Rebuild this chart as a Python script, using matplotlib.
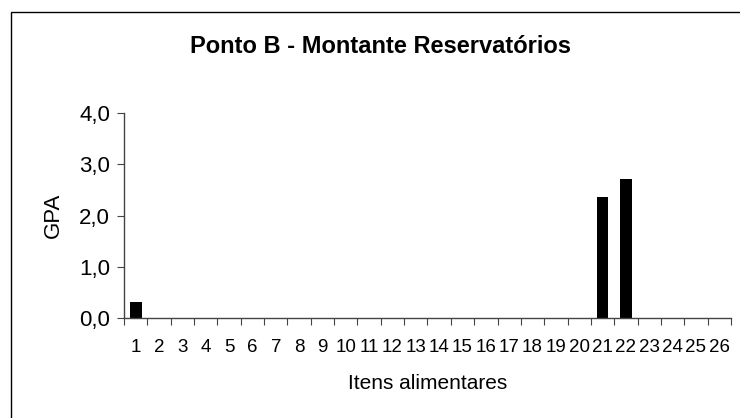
import matplotlib
matplotlib.use('Agg')
import matplotlib.pyplot as plt
from matplotlib.patches import Rectangle
import numpy as np

plt.rcParams['font.family'] = ['Liberation Sans', 'DejaVu Sans']

itens = list(range(1, 27))
gpa = [0.31, 0, 0, 0, 0, 0, 0, 0, 0, 0, 0, 0, 0, 0, 0, 0, 0, 0, 0, 0,
       2.36, 2.71, 0, 0, 0, 0]
yticks = [0.0, 1.0, 2.0, 3.0, 4.0]
ylabels = ['0,0', '1,0', '2,0', '3,0', '4,0']

fig = plt.figure(figsize=(7.4, 4.18), dpi=100)
ax = fig.add_axes([0.1676, 0.2392, 0.8202, 0.4904])

# outer chart frame (runs off the right and bottom edges)
fig.patches.append(Rectangle((11 / 740, -0.1), 1.2, 1 - 12 / 418 + 0.1,
                             transform=fig.transFigure, fill=False,
                             edgecolor='black', linewidth=1.0, clip_on=False))

ax.bar(itens, gpa, width=0.5, color='black')

ax.set_xlim(0.5, 26.5)
ax.set_ylim(0, 4.0)

axis_color = '#444444'
for s in ['top', 'right']:
    ax.spines[s].set_visible(False)
for s in ['left', 'bottom']:
    ax.spines[s].set_color(axis_color)
    ax.spines[s].set_linewidth(1.0)

ax.set_yticks(yticks)
ax.set_yticklabels(ylabels, fontsize=16)
ax.tick_params(axis='y', direction='out', length=5, color=axis_color, pad=5)

ax.set_xticks(np.arange(0.5, 27, 1))
ax.set_xticklabels([])
ax.tick_params(axis='x', which='major', direction='out', length=5, color=axis_color)
ax.set_xticks(itens, minor=True)
ax.set_xticklabels([str(i) for i in itens], minor=True, fontsize=13.5)
ax.tick_params(axis='x', which='minor', length=0, pad=15)

ax.set_ylabel('GPA', fontsize=16, labelpad=11)
ax.set_xlabel('Itens alimentares', fontsize=15, labelpad=13)

fig.text(0.514, 0.888, 'Ponto B - Montante Reservatórios', fontsize=17,
         fontweight='bold', ha='center', va='center')

fig.savefig('out.png', dpi=100)
